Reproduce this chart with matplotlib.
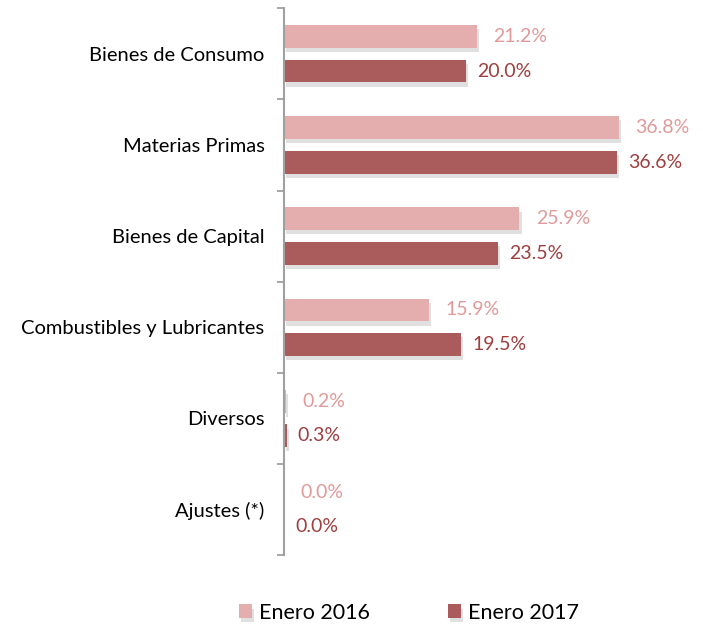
import matplotlib
matplotlib.use("Agg")
import matplotlib.pyplot as plt
import matplotlib.patheffects as pe
import numpy as np

plt.rcParams['font.family'] = ['Lato', 'DejaVu Sans']

categories = ["Bienes de Consumo", "Materias Primas", "Bienes de Capital",
              "Combustibles y Lubricantes", "Diversos", "Ajustes (*)"]
enero_2016 = [21.2, 36.8, 25.9, 15.9, 0.2, 0.0]
enero_2017 = [20.0, 36.6, 23.5, 19.5, 0.3, 0.0]
series_names = ["Enero 2016", "Enero 2017"]

c16, c17 = "#E4AEAE", "#AA5C5C"
t16, t17 = "#E09A9A", "#9E3E3E"

fig = plt.figure(figsize=(7.03, 6.26), dpi=100)
ax = fig.add_axes([0.404, 0.113, 0.582, 0.874])

y = np.arange(len(categories))
h = 0.25
off = 0.19
shadow = [pe.SimplePatchShadow(offset=(1.5, -3), shadow_rgbFace="#999999", alpha=0.3), pe.Normal()]

b1 = ax.barh(y - off, enero_2016, height=h, color=c16, label=series_names[0], path_effects=shadow)
b2 = ax.barh(y + off, enero_2017, height=h, color=c17, label=series_names[1], path_effects=shadow)

for yy, v in zip(y - off, enero_2016):
    ax.annotate(f"{v:.1f}%", (v, yy), xytext=(12, 0), textcoords="offset points",
                va="center", ha="left", color=t16, fontsize=14)
for yy, v in zip(y + off, enero_2017):
    ax.annotate(f"{v:.1f}%", (v, yy), xytext=(8, 0), textcoords="offset points",
                va="center", ha="left", color=t17, fontsize=14)

ax.set_ylim(len(categories) - 0.5, -0.5)
ax.set_xlim(0, 45)
ax.set_yticks(y)
ax.set_yticklabels(categories, fontsize=14.5)
ax.tick_params(axis="y", which="major", length=0, pad=14)
ax.set_yticks(np.arange(-0.5, len(categories)), minor=True)
ax.tick_params(axis="y", which="minor", length=5, color="#A0A0A0", width=1.3)
ax.set_xticks([])
for s in ["top", "right", "bottom"]:
    ax.spines[s].set_visible(False)
ax.spines["left"].set_color("#A0A0A0")
ax.spines["left"].set_linewidth(1.5)

fig.legend(handles=[b1, b2], labels=series_names, loc="center", bbox_to_anchor=(0.582, 0.021),
           ncol=2, frameon=False, fontsize=15.5, handlelength=0.6, handleheight=0.6,
           columnspacing=3.6, handletextpad=0.35)

fig.savefig("out.png", dpi=100)
